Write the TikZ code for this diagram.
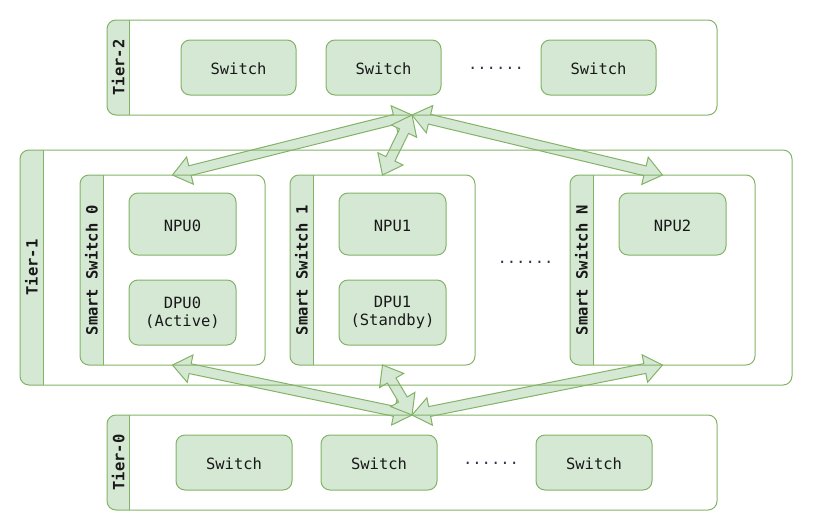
\documentclass[tikz,border=0pt]{standalone}
\usepackage{fontspec}
\setmonofont{DejaVu Sans Mono}
\usetikzlibrary{calc}
\definecolor{gfill}{HTML}{D5E8D4}
\definecolor{gline}{HTML}{82B366}
\definecolor{dotcol}{HTML}{33334D}
\newcommand\mylane[4]{% name, label, band width, radius
  \begin{scope}
    \clip (#1.north west) rectangle ($(#1.south west)+(#3,0)$);
    \fill[gfill, rounded corners=#4] (#1.north west) rectangle (#1.south east);
  \end{scope}
  \draw[gline, line width=1pt] ($(#1.north west)+(#3,0)$) -- ($(#1.south west)+(#3,0)$);
  \draw[gline, line width=1pt, rounded corners=#4] (#1.north west) rectangle (#1.south east);
  \node[lanelabel] (#1-lbl) at ($(#1.west)+(#3/2,0)$) {#2};
}
\newcommand\mydblarrow[2]{%
  \filldraw[blockarrow] let \p1=($(#2)-(#1)$), \n1={atan2(\y1,\x1)} in
    (#1) -- ($(#1)+(\n1:18pt)+(\n1+90:14pt)$) -- ($(#1)+(\n1:18pt)+(\n1+90:5pt)$)
    -- ($(#2)+(\n1:-18pt)+(\n1+90:5pt)$) -- ($(#2)+(\n1:-18pt)+(\n1+90:14pt)$)
    -- (#2) -- ($(#2)+(\n1:-18pt)+(\n1-90:14pt)$) -- ($(#2)+(\n1:-18pt)+(\n1-90:5pt)$)
    -- ($(#1)+(\n1:18pt)+(\n1-90:5pt)$) -- ($(#1)+(\n1:18pt)+(\n1-90:14pt)$) -- cycle;
}
\begin{document}
\begin{tikzpicture}[x=1pt, y=-1pt,
  txt/.style={font=\ttfamily\fontsize{15.5}{18}\selectfont, text=black!90},
  lanebox/.style={inner sep=0pt, outer sep=0pt},
  lanelabel/.style={rotate=90, font=\ttfamily\bfseries\fontsize{15.5}{18}\selectfont, text=black!90, inner sep=0pt},
  unit/.style={txt, draw=gline, fill=gfill, line width=1pt, rounded corners=9pt, inner sep=0pt, outer sep=0pt, align=center},
  oneline/.style={text height=14pt, text depth=0pt},
  sw/.style={unit, oneline, minimum width=115pt, minimum height=55pt},
  chip/.style={unit, minimum width=107pt},
  dots/.style={font=\ttfamily\fontsize{15.5}{18}\selectfont, text=dotcol, inner sep=0pt},
  blockarrow/.style={fill=gfill, draw=gline, line width=1pt, line join=miter}
]
\useasboundingbox (0,0) rectangle (814,531);

% lane frames (coordinates only)
\node[lanebox, minimum width=610pt, minimum height=95pt] (t2) at (412,67.5) {};
\node[lanebox, minimum width=772pt, minimum height=235pt] (t1) at (406,267.5) {};
\node[lanebox, minimum width=610pt, minimum height=95pt] (t0) at (412,462.5) {};
\node[lanebox, minimum width=185pt, minimum height=190pt] (ss0) at (172.5,270) {};
\node[lanebox, minimum width=185pt, minimum height=190pt] (ss1) at (382.5,270) {};
\node[lanebox, minimum width=185pt, minimum height=190pt] (ssN) at (662.5,270) {};

% arrows (under the frames)
\mydblarrow{t2.south}{ss0.north}
\mydblarrow{t2.south}{ss1.north}
\mydblarrow{t2.south}{ssN.north}
\mydblarrow{t0.north}{ss0.south}
\mydblarrow{t0.north}{ss1.south}
\mydblarrow{t0.north}{ssN.south}

\mylane{t2}{Tier-2}{22.5pt}{9pt}
\mylane{t1}{Tier-1}{23pt}{9pt}
\mylane{t0}{Tier-0}{22.5pt}{9pt}
\mylane{ss0}{Smart Switch 0}{23pt}{9pt}
\mylane{ss1}{Smart Switch 1}{23pt}{9pt}
\mylane{ssN}{Smart Switch N}{23pt}{9pt}

% Tier-2 switches
\node[sw] (s21) at (238.5,67.5) {Switch};
\node[sw] (s22) at (383.5,67.5) {Switch};
\node[dots] (d2) at (496,68.5) {......};
\node[sw] (s23) at (598.5,67.5) {Switch};

% Tier-1 contents
\node[chip, oneline, minimum height=62pt] (npu0) at (182.5,224) {NPU0};
\node[chip, minimum height=65pt] (dpu0) at (182.5,312.5) {DPU0\\(Active)};
\node[chip, oneline, minimum height=62pt] (npu1) at (392.5,224) {NPU1};
\node[chip, minimum height=65pt] (dpu1) at (392.5,312.5) {DPU1\\(Standby)};
\node[dots] (d1) at (525.5,262) {......};
\node[chip, oneline, minimum height=62pt] (npu2) at (672.5,224) {NPU2};

% Tier-0 switches
\node[sw, minimum width=116pt] (s01) at (234,462.5) {Switch};
\node[sw, minimum width=116pt] (s02) at (379,462.5) {Switch};
\node[dots] (d0) at (491,463.5) {......};
\node[sw, minimum width=116pt] (s03) at (594,462.5) {Switch};
\end{tikzpicture}
\end{document}
